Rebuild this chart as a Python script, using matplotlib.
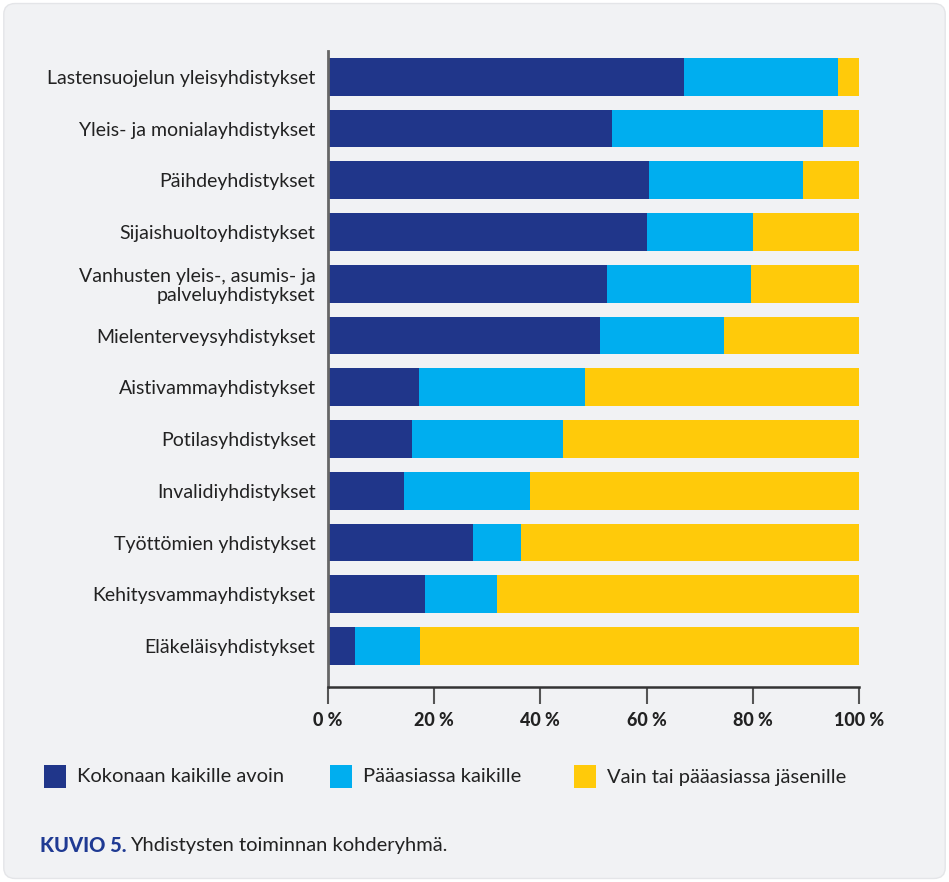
#!/usr/bin/env python3

import matplotlib
import matplotlib.pyplot as plt
from matplotlib.patches import FancyBboxPatch, Rectangle
import numpy as np

matplotlib.rcParams['font.family'] = ['Lato', 'DejaVu Sans']

categories = [
    'Lastensuojelun yleisyhdistykset',
    'Yleis- ja monialayhdistykset',
    'Päihdeyhdistykset',
    'Sijaishuoltoyhdistykset',
    'Vanhusten yleis-, asumis- ja\npalveluyhdistykset',
    'Mielenterveysyhdistykset',
    'Aistivammayhdistykset',
    'Potilasyhdistykset',
    'Invalidiyhdistykset',
    'Työttömien yhdistykset',
    'Kehitysvammayhdistykset',
    'Eläkeläisyhdistykset',
]
kaikille_avoin = [67.1, 53.4, 60.5, 60.1, 52.6, 51.3, 17.2, 15.8, 14.3, 27.3, 18.3, 5.1]
paaasiassa_kaikille = [28.9, 39.9, 28.9, 20.0, 27.0, 23.2, 31.3, 28.5, 23.8, 9.1, 13.6, 12.3]
jasenille = [4.0, 6.7, 10.6, 19.9, 20.4, 25.5, 51.5, 55.7, 61.9, 63.6, 68.1, 82.6]

series_names = ['Kokonaan kaikille avoin', 'Pääasiassa kaikille', 'Vain tai pääasiassa jäsenille']
colors = ['#20368a', '#00aeef', '#ffca0a']
bg = '#f1f2f4'
text_color = '#222222'

fig = plt.figure(figsize=(9.49, 8.82), dpi=100, facecolor='white')
fig.patches.append(FancyBboxPatch((0.004, 0.004), 0.992, 0.992, boxstyle='round,pad=0,rounding_size=0.012',
                                  transform=fig.transFigure, facecolor=bg, edgecolor='#e4e5e8',
                                  linewidth=1, zorder=-10))

ax = fig.add_axes([0.3456, 0.2211, 0.5595, 0.7211])
ax.patch.set_alpha(0)
ax.set_zorder(5)

y = np.arange(len(categories))
left = np.zeros(len(categories))
for vals, name, c in zip([kaikille_avoin, paaasiassa_kaikille, jasenille], series_names, colors):
    ax.barh(y, vals, left=left, height=0.73, color=c, label=name, linewidth=0)
    left += np.array(vals)

ax.set_xlim(0, 100)
ax.set_ylim(11.79, -0.5)
ax.set_yticks(y)
ax.set_yticklabels(categories, fontsize=14, color=text_color, linespacing=1.15)
ax.set_xticks([0, 20, 40, 60, 80, 100])
ax.set_xticklabels([f'{v} %' for v in [0, 20, 40, 60, 80, 100]], fontsize=13, fontweight='black',
                   color=text_color)

ax.tick_params(axis='y', length=0, pad=9)
ax.tick_params(axis='x', length=12, width=1.5, color='#555555', direction='out', pad=6)

for s in ['top', 'right']:
    ax.spines[s].set_visible(False)
ax.spines['left'].set_color('#666666')
ax.spines['left'].set_linewidth(2)
ax.spines['bottom'].set_color('#333333')
ax.spines['bottom'].set_linewidth(1.8)

# legend
legend_x = [44, 330, 574]
for lx, name, c in zip(legend_x, series_names, colors):
    fig.patches.append(Rectangle((lx / 949, 1 - 788 / 882), 22 / 949, 23 / 882,
                                 transform=fig.transFigure, facecolor=c, edgecolor='none'))
    fig.text((lx + 33) / 949, 1 - 777 / 882, name, fontsize=14.5, color=text_color, va='center', ha='left')

# caption
t = fig.text(40 / 949, 1 - 846 / 882, 'KUVIO 5.', fontsize=14.5, fontweight='black', color='#1f3a93',
             va='center', ha='left')
fig.canvas.draw()
bb = t.get_window_extent()
fig.text((bb.x1 + 4) / 949, 1 - 846 / 882, 'Yhdistysten toiminnan kohderyhmä.', fontsize=14.5,
         color=text_color, va='center', ha='left')

plt.savefig('out.png', dpi=100, facecolor='white')
